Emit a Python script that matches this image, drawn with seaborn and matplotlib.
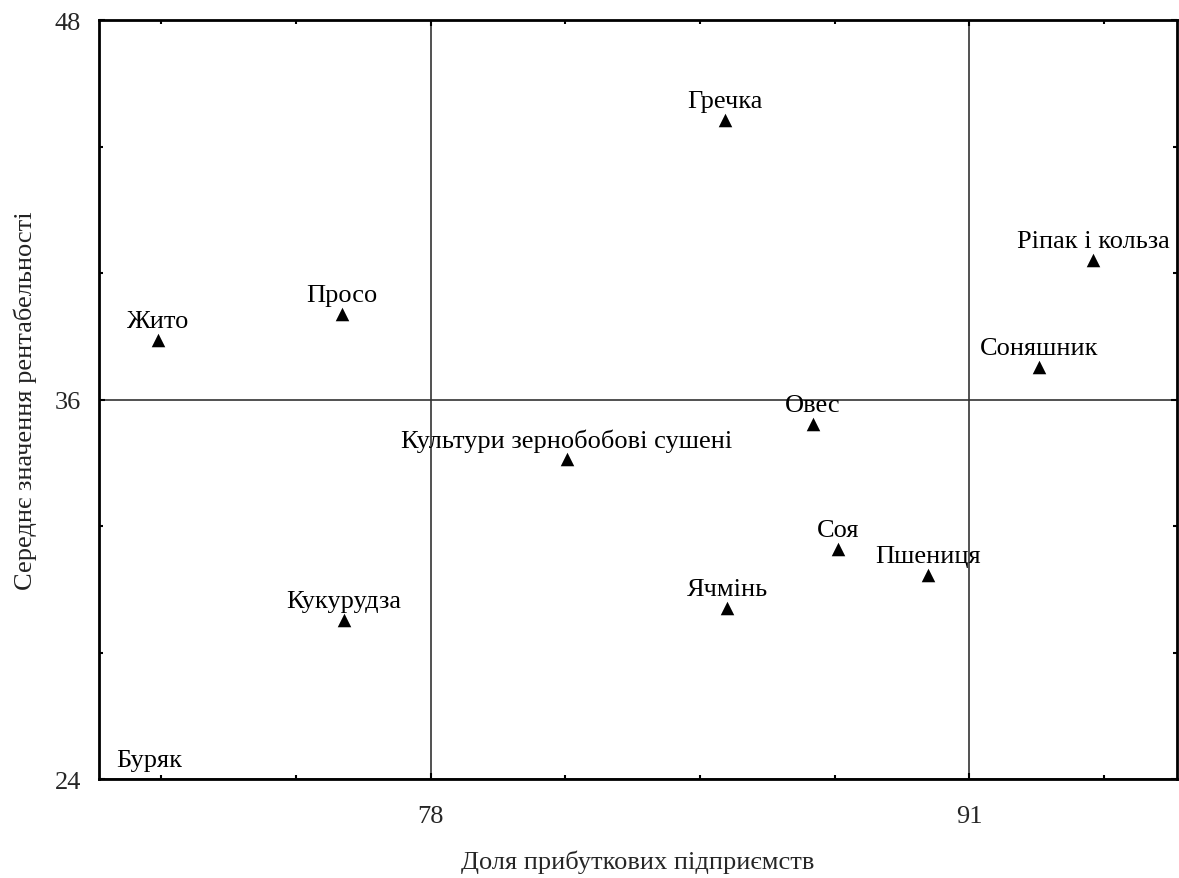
import matplotlib
matplotlib.use("Agg")
import matplotlib.pyplot as plt
from matplotlib.ticker import FixedLocator, AutoMinorLocator
import seaborn as sns
import pandas as pd

# Crops: share of profitable enterprises vs mean profitability
crops = ["Гречка", "Ріпак і кольза", "Просо", "Жито", "Соняшник", "Овес",
         "Культури зернобобові сушені", "Соя", "Пшениця", "Ячмінь",
         "Кукурудза", "Буряк"]
share_profitable = [85.11, 93.98, 75.86, 71.42, 92.67, 87.23,
                    81.29, 87.83, 90.01, 85.16, 75.91, 71.22]
mean_profitability = [44.84, 40.41, 38.70, 37.88, 37.03, 35.23,
                      34.12, 31.27, 30.45, 29.41, 29.03, 23.8]

x_ticks = [78, 91]
y_ticks = [24, 36, 48]
y_floor, y_ceil = 24, 48

df = pd.DataFrame({"crop": crops, "x": share_profitable, "y": mean_profitability})

sns.set_theme(style="white")
plt.rcParams["font.family"] = ["Liberation Serif", "DejaVu Serif"]

fig = plt.figure(figsize=(11.79, 8.79), dpi=100)
ax = fig.add_axes([0.084, 0.1126, 0.914, 0.8635])

sns.scatterplot(data=df, x="x", y="y", marker="^", s=95, color="black",
                edgecolor="black", linewidth=0, ax=ax, zorder=3, clip_on=True)

# Points below the axis floor keep their label pinned to the floor
for name, xv, yv in zip(crops, share_profitable, mean_profitability):
    ax.annotate(name, (xv, max(yv, y_floor)), xytext=(0, 13.5),
                textcoords="offset points", ha="center", va="center",
                fontsize=19, color="black", annotation_clip=False)

ax.set_xlim(70, 96)
ax.set_ylim(y_floor, y_ceil)
ax.xaxis.set_major_locator(FixedLocator(x_ticks))
ax.yaxis.set_major_locator(FixedLocator(y_ticks))
ax.xaxis.set_minor_locator(FixedLocator([71.5, 74.75, 81.25, 84.5, 87.75, 94.25]))
ax.yaxis.set_minor_locator(AutoMinorLocator(3))

ax.grid(True, which="major", color="#333333", linewidth=1.2)
ax.set_axisbelow(True)

ax.tick_params(axis="both", which="both", direction="in", top=True, right=True,
               bottom=True, left=True, color="black", width=1.5)
ax.tick_params(axis="both", which="major", length=4, labelsize=19)
ax.tick_params(axis="both", which="minor", length=3)
ax.tick_params(axis="x", which="major", pad=19)
ax.tick_params(axis="y", which="major", pad=13)

for sp in ax.spines.values():
    sp.set_color("black")
    sp.set_linewidth(2)

ax.set_xlabel("Доля прибуткових підприємств", fontsize=19, labelpad=16)
ax.set_ylabel("Середнє значення рентабельності", fontsize=19, color="#222222",
              labelpad=13)

fig.savefig("out.png", dpi=100)
